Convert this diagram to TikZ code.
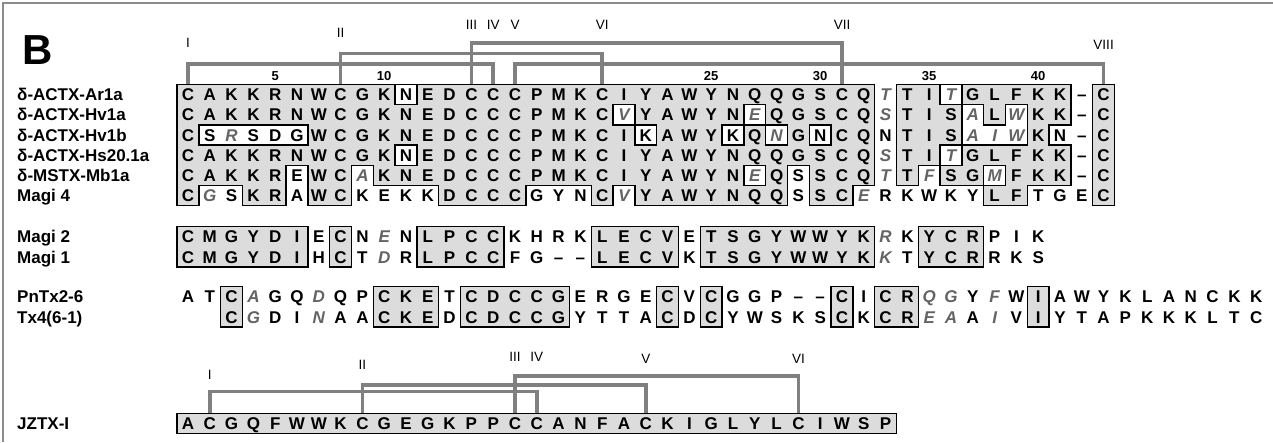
\documentclass[tikz,border=0pt]{standalone}
\usepackage{fontspec}
\setmainfont{Liberation Sans}
\definecolor{shadegray}{RGB}{220,220,220}
\definecolor{bridgegray}{RGB}{128,128,128}
\definecolor{italgray}{RGB}{100,100,100}
\definecolor{framegray}{RGB}{140,140,140}
\tikzset{
  res/.style={font=\fontsize{17}{17}\selectfont\bfseries, inner sep=0pt, text height=12.2pt, text depth=0pt, anchor=center},
  resi/.style={res, font=\fontsize{17}{17}\selectfont\bfseries\itshape, text=italgray},
  lab/.style={font=\fontsize{17}{17}\selectfont\bfseries, inner sep=0pt, text height=12.2pt, text depth=0pt, anchor=west},
  roman/.style={font=\fontsize{13.5}{13.5}\selectfont, inner sep=0pt, anchor=center},
  numlab/.style={font=\fontsize{13}{13}\selectfont\bfseries, inner sep=0pt, anchor=center},
  bridge/.style={draw=bridgegray, line width=3.6pt, line join=miter},
  cellline/.style={draw=black, line width=1.4pt, line cap=rect},
  shadefill/.style={fill=shadegray},
}
\newcommand\markrow[2]{\foreach \ca/\cb in {#2}{\foreach \cc in {\ca,...,\cb}{\expandafter\gdef\csname sh-#1-\cc\endcsname{}}}}
\newcommand\shaderow[2]{\foreach \ca/\cb in {#2}{\foreach \cc in {\ca,...,\cb}{%
  \fill[shadefill] ({188+(\cc-1)*21.8-11.2},{#1-10.4}) rectangle ({188+(\cc-1)*21.8+11.2},{#1+10.4});}}}
\newcommand\outlinerow[3]{\foreach \ca/\cb in {#3}{\foreach \cc in {\ca,...,\cb}{%
  \ifcsname sh-\number\numexpr#1-1\relax-\cc\endcsname\else
    \draw[cellline] ({188+(\cc-1)*21.8-10.9},{#2-10.1}) -- ({188+(\cc-1)*21.8+10.9},{#2-10.1});\fi
  \ifcsname sh-\number\numexpr#1+1\relax-\cc\endcsname\else
    \draw[cellline] ({188+(\cc-1)*21.8-10.9},{#2+10.1}) -- ({188+(\cc-1)*21.8+10.9},{#2+10.1});\fi
  \ifcsname sh-#1-\number\numexpr\cc-1\relax\endcsname\else
    \draw[cellline] ({188+(\cc-1)*21.8-10.9},{#2-10.1}) -- ({188+(\cc-1)*21.8-10.9},{#2+10.1});\fi
  \ifcsname sh-#1-\number\numexpr\cc+1\relax\endcsname\else
    \draw[cellline] ({188+(\cc-1)*21.8+10.9},{#2-10.1}) -- ({188+(\cc-1)*21.8+10.9},{#2+10.1});\fi
}}}
\newcommand\seqrow[4]{\foreach \rr [count=\ii from #3] in {#4}{%
  \expandafter\ifnum\expandafter`\rr=45\relax
    \node[res] (#1-\ii) at ({188+(\ii-1)*21.8},#2) {\textendash};%
  \else\expandafter\ifnum\expandafter`\rr>96\relax
    \node[resi] (#1-\ii) at ({188+(\ii-1)*21.8},#2) {\uppercase\expandafter{\rr}};%
  \else
    \node[res] (#1-\ii) at ({188+(\ii-1)*21.8},#2) {\rr};%
  \fi\fi}}
\begin{document}
\begin{tikzpicture}[x=1pt,y=-1pt]
\useasboundingbox (0,0) rectangle (1273,442);
\fill[white] (0,0) rectangle (1273,442);
\draw[framegray, line width=1.5pt] (3,442) -- (3,3) -- (1273,3);
% shading map
\markrow{1}{1/10,12/32,34/35,37/41,43/43}
\markrow{2}{1/20,22/26,28/32,34/36,38/38,40/41,43/43}
\markrow{3}{1/1,7/21,23/25,27/27,29/29,31/32,34/36,40/40,43/43}
\markrow{4}{1/10,12/32,34/35,37/41,43/43}
\markrow{5}{1/5,7/8,10/26,28/28,30/32,34/34,36/37,39/41,43/43}
\markrow{6}{1/1,4/5,7/8,13/16,20/20,22/28,30/31,38/39,43/43}
\markrow{11}{1/6,8/8,12/15,20/23,25/32,35/37}
\markrow{12}{1/6,8/8,12/15,20/23,25/32,35/37}
\markrow{21}{3/3,10/12,14/18,23/23,25/25,31/31,33/34,40/40}
\markrow{22}{3/3,10/12,14/18,23/23,25/25,31/31,33/34,40/40}
\markrow{31}{1/33}
% fills
\shaderow{94.5}{1/10,12/32,34/35,37/41,43/43}
\shaderow{114.7}{1/20,22/26,28/32,34/36,38/38,40/41,43/43}
\shaderow{134.9}{1/1,7/21,23/25,27/27,29/29,31/32,34/36,40/40,43/43}
\shaderow{155.1}{1/10,12/32,34/35,37/41,43/43}
\shaderow{175.3}{1/5,7/8,10/26,28/28,30/32,34/34,36/37,39/41,43/43}
\shaderow{195.5}{1/1,4/5,7/8,13/16,20/20,22/28,30/31,38/39,43/43}
\shaderow{236.7}{1/6,8/8,12/15,20/23,25/32,35/37}
\shaderow{256.9}{1/6,8/8,12/15,20/23,25/32,35/37}
\shaderow{296.8}{3/3,10/12,14/18,23/23,25/25,31/31,33/34,40/40}
\shaderow{317}{3/3,10/12,14/18,23/23,25/25,31/31,33/34,40/40}
\shaderow{423.5}{1/33}
% outlines
\outlinerow{1}{94.5}{1/10,12/32,34/35,37/41,43/43}
\outlinerow{2}{114.7}{1/20,22/26,28/32,34/36,38/38,40/41,43/43}
\outlinerow{3}{134.9}{1/1,7/21,23/25,27/27,29/29,31/32,34/36,40/40,43/43}
\outlinerow{4}{155.1}{1/10,12/32,34/35,37/41,43/43}
\outlinerow{5}{175.3}{1/5,7/8,10/26,28/28,30/32,34/34,36/37,39/41,43/43}
\outlinerow{6}{195.5}{1/1,4/5,7/8,13/16,20/20,22/28,30/31,38/39,43/43}
\outlinerow{11}{236.7}{1/6,8/8,12/15,20/23,25/32,35/37}
\outlinerow{12}{256.9}{1/6,8/8,12/15,20/23,25/32,35/37}
\outlinerow{21}{296.8}{3/3,10/12,14/18,23/23,25/25,31/31,33/34,40/40}
\outlinerow{22}{317}{3/3,10/12,14/18,23/23,25/25,31/31,33/34,40/40}
\outlinerow{31}{423.5}{1/33}
% continuous top border of the upper block
\draw[cellline] ({188-10.9},84.4) -- ({188+31*21.8+10.9},84.4);
\draw[cellline] ({188+33*21.8-10.9},84.4) -- ({188+40*21.8+10.9},84.4);
% residues
\seqrow{u1}{94.5}{1}{C,A,K,K,R,N,W,C,G,K,N,E,D,C,C,C,P,M,K,C,I,Y,A,W,Y,N,Q,Q,G,S,C,Q,t,T,I,t,G,L,F,K,K,-,C}
\seqrow{u2}{114.7}{1}{C,A,K,K,R,N,W,C,G,K,N,E,D,C,C,C,P,M,K,C,v,Y,A,W,Y,N,e,Q,G,S,C,Q,s,T,I,S,a,L,w,K,K,-,C}
\seqrow{u3}{134.9}{1}{C,S,r,S,D,G,W,C,G,K,N,E,D,C,C,C,P,M,K,C,I,K,A,W,Y,K,Q,n,G,N,C,Q,N,T,I,S,a,i,w,K,N,-,C}
\seqrow{u4}{155.1}{1}{C,A,K,K,R,N,W,C,G,K,N,E,D,C,C,C,P,M,K,C,I,Y,A,W,Y,N,Q,Q,G,S,C,Q,s,T,I,t,G,L,F,K,K,-,C}
\seqrow{u5}{175.3}{1}{C,A,K,K,R,E,W,C,a,K,N,E,D,C,C,C,P,M,K,C,I,Y,A,W,Y,N,e,Q,S,S,C,Q,t,T,f,S,G,m,F,K,K,-,C}
\seqrow{u6}{195.5}{1}{C,g,S,K,R,A,W,C,K,E,K,K,D,C,C,C,G,Y,N,C,v,Y,A,W,Y,N,Q,Q,S,S,C,e,R,K,W,K,Y,L,F,T,G,E,C}
\seqrow{m1}{236.7}{1}{C,M,G,Y,D,I,E,C,N,e,N,L,P,C,C,K,H,R,K,L,E,C,V,E,T,S,G,Y,W,W,Y,K,r,K,Y,C,R,P,I,K}
\seqrow{m2}{256.9}{1}{C,M,G,Y,D,I,H,C,T,d,R,L,P,C,C,F,G,-,-,L,E,C,V,K,T,S,G,Y,W,W,Y,K,k,T,Y,C,R,R,K,S}
\seqrow{p1}{296.8}{1}{A,T,C,a,G,Q,d,Q,P,C,K,E,T,C,D,C,C,G,E,R,G,E,C,V,C,G,G,P,-,-,C,I,C,R,q,g,Y,f,W,I,A,W,Y,K,L,A,N,C,K,K}
\seqrow{p2}{317}{3}{C,g,D,I,n,A,A,C,K,E,D,C,D,C,C,G,Y,T,T,A,C,D,C,Y,W,S,K,S,C,K,C,R,e,a,A,i,V,I,Y,T,A,P,K,K,K,L,T,C}
\seqrow{j}{423.5}{1}{A,C,G,Q,F,W,W,K,C,G,E,G,K,P,P,C,C,A,N,F,A,C,K,I,G,L,Y,L,C,I,W,S,P}
% labels
\node[font=\fontsize{42}{42}\selectfont\bfseries, inner sep=0pt] (panel) at (37.5,50) {B};
\node[lab] (lar1a) at (17,94.5) {δ-ACTX-Ar1a};
\node[lab] (lhv1a) at (17,114.7) {δ-ACTX-Hv1a};
\node[lab] (lhv1b) at (17,134.9) {δ-ACTX-Hv1b};
\node[lab] (lhs20) at (17,155.1) {δ-ACTX-Hs20.1a};
\node[lab] (lmb1a) at (17,175.3) {δ-MSTX-Mb1a};
\node[lab] (lmagi4) at (17,195.5) {Magi 4};
\node[lab] (lmagi2) at (17,236.7) {Magi 2};
\node[lab] (lmagi1) at (17,256.9) {Magi 1};
\node[lab] (lpntx) at (17,296.8) {PnTx2-6};
\node[lab] (ltx4) at (17,317) {Tx4(6-1)};
\node[lab] (ljztx) at (17,423.5) {JZTX-I};
% position numbers
\foreach \n in {5,10,25,30,35,40}{\node[numlab] (num\n) at ({188+(\n-1)*21.8},76) {\n};}
% coordinates for numeral heights
\coordinate (hA) at (0,25);
\coordinate (hB) at (0,33);
\coordinate (hC) at (0,43);
\coordinate (hD) at (0,45);
% roman numerals (upper)
\node[roman] (rI) at (u1-1 |- hC) {I};
\node[roman] (rII) at (u1-8 |- hB) {II};
\node[roman] (rIII) at (u1-14 |- hA) {III};
\node[roman] (rIV) at (u1-15 |- hA) {IV};
\node[roman] (rV) at (u1-16 |- hA) {V};
\node[roman] (rVI) at (u1-20 |- hA) {VI};
\node[roman] (rVII) at (u1-31 |- hA) {VII};
\node[roman] (rVIII) at (u1-43 |- hD) {VIII};
% bridges (upper)
\coordinate (utop) at (0,83.7);
\coordinate (lvA) at (0,43);
\coordinate (lvB) at (0,53.5);
\coordinate (lvC) at (0,64);
\draw[bridge] (u1-1 |- utop) -- (u1-1 |- lvC) -- (u1-15 |- lvC) -- (u1-15 |- utop);
\draw[bridge] (u1-8 |- utop) -- (u1-8 |- lvB) -- (u1-20 |- lvB) -- (u1-20 |- utop);
\draw[bridge] (u1-14 |- utop) -- (u1-14 |- lvA) -- (u1-31 |- lvA) -- (u1-31 |- utop);
\draw[bridge] (u1-16 |- utop) -- (u1-16 |- lvC) -- (u1-43 |- lvC) -- (u1-43 |- utop);
% roman numerals (JZTX-I)
\coordinate (jhA) at (0,357);
\coordinate (jhB) at (0,359);
\coordinate (jhC) at (0,365);
\coordinate (jhD) at (0,375);
\node[roman] (jI) at (j-2 |- jhD) {I};
\node[roman] (jII) at (j-9 |- jhC) {II};
\node[roman] (jIII) at (j-16 |- jhA) {III};
\node[roman] (jIV) at (j-17 |- jhA) {IV};
\node[roman] (jV) at (j-22 |- jhB) {V};
\node[roman] (jVI) at (j-29 |- jhB) {VI};
% bridges (JZTX-I)
\coordinate (jtop) at (0,412.7);
\coordinate (jlA) at (0,376);
\coordinate (jlB) at (0,385);
\coordinate (jlC) at (0,391.5);
\draw[bridge] (j-2 |- jtop) -- (j-2 |- jlC) -- (j-17 |- jlC) -- (j-17 |- jtop);
\draw[bridge] (j-9 |- jtop) -- (j-9 |- jlB) -- (j-22 |- jlB) -- (j-22 |- jtop);
\draw[bridge] (j-16 |- jtop) -- (j-16 |- jlA) -- (j-29 |- jlA) -- (j-29 |- jtop);
\end{tikzpicture}
\end{document}
